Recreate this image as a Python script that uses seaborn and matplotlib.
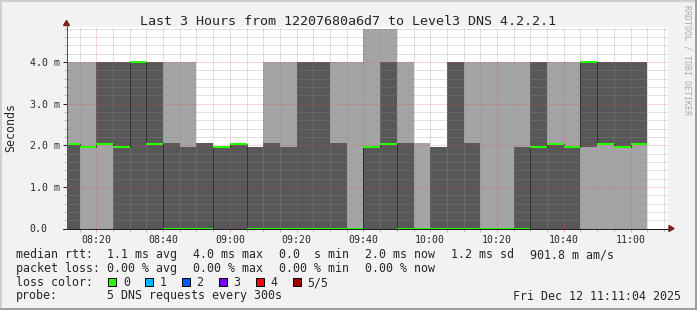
import matplotlib
matplotlib.use("Agg")
import matplotlib.pyplot as plt
import seaborn as sns
import pandas as pd
import numpy as np
from matplotlib.patches import Rectangle, Polygon
from matplotlib.lines import Line2D
from matplotlib.ticker import MultipleLocator

# ---------------- data ----------------
times = ["08:10", "08:15", "08:20", "08:25", "08:30", "08:35", "08:40", "08:45",
         "08:50", "08:55", "09:00", "09:05", "09:10", "09:15", "09:20", "09:25",
         "09:30", "09:35", "09:40", "09:45", "09:50", "09:55", "10:00", "10:05",
         "10:10", "10:15", "10:20", "10:25", "10:30", "10:35", "10:40", "10:45",
         "10:50", "10:55", "11:00"]
# sorted ping times (ms) of the 5 DNS requests in each 5-minute step
ping1 = [0, 0, 0, 0, 0, 0, 0, 0, 0, 0, 0, 0, 0, 0, 0, 0, 0, 0,
         0, 0, 0, 0, 0, 0, 0, 0, 0, 0, 0, 0, 0, 0, 0, 0, 0]
ping2 = [0, 1.95, 2.04, 0, 0, 0, 0, 0, 0, 0, 0, 0, 0, 0, 0, 0, 0, 0,
         0, 0, 0, 0, 0, 0, 0, 0, 0, 0, 0, 0, 0, 1.95, 2.04, 1.95, 2.04]
ping3 = [2.04, 1.95, 2.04, 1.95, 4.0, 2.04, 0, 0, 0, 1.95, 2.04, 0, 0, 0, 0, 0, 0, 0,
         1.95, 2.04, 0, 0, 0, 0, 0, 0, 0, 0, 1.95, 2.04, 1.95, 4.0, 2.04, 1.95, 2.04]
ping4 = [2.04, 1.95, 4.0, 4.0, 4.0, 4.0, 2.06, 1.95, 2.06, 1.95, 2.04, 1.95, 2.06, 1.95,
         4.0, 4.0, 2.06, 0, 1.95, 4.0, 2.06, 0, 1.95, 4.0, 2.06, 0, 0, 1.95, 4.0, 2.04,
         1.95, 4.0, 4.0, 4.0, 4.0]
ping5 = [4.0, 4.0, 4.0, 4.0, 4.0, 4.0, 4.0, 4.0, 2.06, 1.95, 2.04, 1.95, 4.0, 4.0,
         4.0, 4.0, 4.0, 4.0, 4.8, 4.8, 4.0, 2.06, 1.95, 4.0, 4.0, 4.0, 4.0, 4.0, 4.0, 4.0,
         4.0, 4.0, 4.0, 4.0, 4.0]
xtick_labels = ["08:20", "08:40", "09:00", "09:20", "09:40", "10:00", "10:20", "10:40", "11:00"]
ytick_values = [0, 1, 2, 3, 4]
ytick_labels = ["0.0", "1.0 m", "2.0 m", "3.0 m", "4.0 m"]
loss_labels = ["0", "1", "2", "3", "4", "5/5"]
loss_colors = ["#26ff00", "#00b8ff", "#0059ff", "#7e00ff", "#ff0000", "#a00000"]
title = "Last 3 Hours from 12207680a6d7 to Level3 DNS 4.2.2.1"

# ---------------- style ----------------
W, H = 697, 310
sns.set_theme(style="white")
plt.rcParams["font.family"] = ["DejaVu Sans Mono", "DejaVu Sans"]
BG = "#f2f2f2"
GRID = (0.56, 0.56, 0.56, 0.55)
MGRID = (0.87, 0.31, 0.31, 0.45)
AXIS = "#1f1f1f"
ARROW = "#801f1f"
LIGHT = "#a4a4a4"
DARK = "#585858"
PX = 0.72  # one pixel in points at 100 dpi


def fx(x):
    return x / W


def fy(y):
    return 1 - y / H


def to_min(t):
    return int(t[:2]) * 60 + int(t[3:]) - 480


fig = plt.figure(figsize=(W / 100, H / 100), dpi=100, facecolor=BG)
ax_l, ax_r, ax_t, ax_b = 66.5, 667.5, 27.0, 228.5
ax = fig.add_axes([fx(ax_l), fy(ax_b), (ax_r - ax_l) / W, (ax_b - ax_t) / H])
ax.set_facecolor("white")

tmin = [to_min(t) for t in times]
xstart = 11 + 4 / 60

# smoke
ax.bar(tmin, np.subtract(ping5, ping1), bottom=ping1, width=5, align="edge",
       color=LIGHT, linewidth=0, antialiased=False, zorder=1)
ax.bar(tmin, np.subtract(ping4, ping2), bottom=ping2, width=5, align="edge",
       color=DARK, linewidth=0, antialiased=False, zorder=1.1)

# grid (on top of smoke)
ymax = (ax_b - ax_t) / 41.6
for v in np.arange(0.2, ymax, 0.2):
    major = abs(v - round(v)) < 1e-6
    ax.axhline(v, color=MGRID if major else GRID, lw=PX, ls=(0, (1, 1)), zorder=2)
for m in np.arange(15, 195, 5):
    major = m % 20 == 0
    ax.axvline(m, color=MGRID if major else GRID, lw=PX, ls=(0, (1, 1)), zorder=2)

# median step connector (black dotted)
xs = tmin + [tmin[-1] + 5]
ys = ping3 + [ping3[-1]]
ax.plot(xs, ys, drawstyle="steps-post", color="black", lw=PX, ls=(0, (1, 1)), zorder=2.6)

# median coloured by loss (all 0 loss -> green)
rows = []
for i, (t, m) in enumerate(zip(tmin, ping3)):
    rows.append({"t": t, "v": m, "seg": i})
    rows.append({"t": t + 5, "v": m, "seg": i})
df = pd.DataFrame(rows)
sns.lineplot(data=df, x="t", y="v", units="seg", estimator=None, color=loss_colors[0],
             lw=2 * PX, ax=ax, legend=False, zorder=3, solid_capstyle="butt")

ax.set_xlim(xstart, xstart + 180)
ax.set_ylim(0, ymax)
ax.set_xlabel("")
ax.set_ylabel("")
for s in ax.spines.values():
    s.set_visible(False)

# ticks
ax.set_xticks([to_min(t) for t in xtick_labels])
ax.set_xticklabels(xtick_labels, fontsize=7.1)
ax.xaxis.set_minor_locator(MultipleLocator(5))
ax.set_yticks(ytick_values)
ax.set_yticklabels(ytick_labels, fontsize=7.1)
ax.yaxis.set_minor_locator(MultipleLocator(0.2))
ax.tick_params(axis="x", which="major", direction="out", length=2.5, width=PX,
               color=MGRID, pad=2.5, bottom=True)
ax.tick_params(axis="x", which="minor", direction="out", length=2, width=PX,
               color=GRID, bottom=True)
ax.tick_params(axis="y", which="major", direction="out", length=3, width=PX,
               color=AXIS, left=True, pad=(ax_l - 31 - 3) * PX)
ax.tick_params(axis="y", which="minor", direction="out", length=2, width=PX,
               color=GRID, left=True)
for lbl in ax.get_yticklabels():
    lbl.set_horizontalalignment("left")

# axes lines and arrows (pixel coordinates)
tf = fig.transFigure
fig.add_artist(Line2D([fx(62.5), fx(669)], [fy(228.5), fy(228.5)], color=AXIS, lw=PX, transform=tf))
fig.add_artist(Line2D([fx(66.5), fx(66.5)], [fy(228.5), fy(24)], color="#505050", lw=PX, transform=tf))
fig.add_artist(Polygon([[fx(669), fy(225.5)], [fx(669), fy(231.5)], [fx(674), fy(228.5)]],
                       closed=True, color=ARROW, transform=tf))
fig.add_artist(Polygon([[fx(63.5), fy(25.5)], [fx(69.5), fy(25.5)], [fx(66.5), fy(20.5)]],
                       closed=True, color=ARROW, transform=tf))

# frame shading
fig.add_artist(Rectangle((0, fy(2)), 1, 2 / H, color="#cfcfcf", transform=tf, lw=0))
fig.add_artist(Rectangle((0, 0), 2 / W, 1, color="#cfcfcf", transform=tf, lw=0))
fig.add_artist(Rectangle((0, 0), 1, 2 / H, color="#9e9e9e", transform=tf, lw=0))
fig.add_artist(Rectangle((fx(695), 0), 2 / W, 1, color="#9e9e9e", transform=tf, lw=0))

# texts
fig.text(fx(348), fy(25), title, ha="center", va="baseline", fontsize=9.6)
fig.text(fx(10.5), fy(127), "Seconds", rotation=90, ha="center", va="center", fontsize=8.4)
fig.text(fx(687.5), fy(60), "RRDTOOL / TOBI OETIKER", rotation=270, ha="center",
         va="center", fontsize=6, color="#ababab")

LF = 8.4
rows_y = [258.3, 272.0, 286.0, 299.5]
fig.text(fx(16), fy(rows_y[0]), "median rtt:", fontsize=LF, va="baseline")
for xx, s in zip([107, 193, 279, 365, 451, 530],
                 ["1.1 ms avg", "4.0 ms max", "0.0  s min", "2.0 ms now", "1.2 ms sd", "901.8 m am/s"]):
    fig.text(fx(xx), fy(rows_y[0]), s, fontsize=LF, va="baseline")
fig.text(fx(16), fy(rows_y[1]), "packet loss:", fontsize=LF, va="baseline")
for xx, s in zip([107, 193, 279, 365], ["0.00 % avg", "0.00 % max", "0.00 % min", "0.00 % now"]):
    fig.text(fx(xx), fy(rows_y[1]), s, fontsize=LF, va="baseline")
fig.text(fx(16), fy(rows_y[2]), "loss color:", fontsize=LF, va="baseline")
for i, (lab, col) in enumerate(zip(loss_labels, loss_colors)):
    sx = 108.3 + i * 36.9
    fig.add_artist(Rectangle((fx(sx), fy(286)), 8 / W, 8 / H, facecolor=col,
                             edgecolor="black", lw=PX, transform=tf))
    fig.text(fx(sx + 14.5), fy(rows_y[2]), lab, fontsize=LF, va="baseline")
fig.text(fx(16), fy(rows_y[3]), "probe:", fontsize=LF, va="baseline")
fig.text(fx(107), fy(rows_y[3]), "5 DNS requests every 300s", fontsize=LF, va="baseline")
fig.text(fx(681), fy(rows_y[3]), "Fri Dec 12 11:11:04 2025", fontsize=LF, va="baseline", ha="right")

fig.savefig("out.png", dpi=100, facecolor=BG)
